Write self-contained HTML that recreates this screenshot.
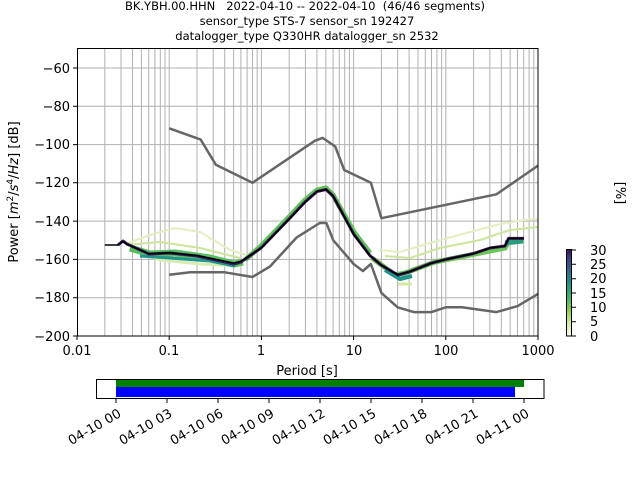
<!DOCTYPE html>
<html><head><meta charset="utf-8"><style>
body{margin:0;background:#fff;width:640px;height:480px;overflow:hidden}
svg text{font-family:"DejaVu Sans","Liberation Sans",sans-serif;fill:#000}
</style></head><body>
<svg width="640" height="480" viewBox="0 0 640 480" xmlns="http://www.w3.org/2000/svg">
<defs>
<linearGradient id="cb" x1="0" y1="1" x2="0" y2="0">
<stop offset="0" stop-color="#fbfbe8"/>
<stop offset="0.15" stop-color="#d6e9a0"/>
<stop offset="0.3" stop-color="#8ccc4a"/>
<stop offset="0.45" stop-color="#3cb56a"/>
<stop offset="0.6" stop-color="#1f958b"/>
<stop offset="0.75" stop-color="#2e6c8e"/>
<stop offset="0.9" stop-color="#413f84"/>
<stop offset="1" stop-color="#3a0f5a"/>
</linearGradient>
<clipPath id="ax"><rect x="77" y="48" width="461" height="288"/></clipPath>
</defs>
<g font-size="11.5" text-anchor="middle">
<text x="305" y="10">BK.YBH.00.HHN&#160;&#160; 2022-04-10 -- 2022-04-10&#160; (46/46 segments)</text>
<text x="307" y="25">sensor_type STS-7 sensor_sn 192427</text>
<text x="307" y="40">datalogger_type Q330HR datalogger_sn 2532</text>
</g>
<g stroke="#b0b0b0" stroke-width="1" fill="none">
<path d="M104.8 48V336M121 48V336M132.5 48V336M141.4 48V336M148.7 48V336M154.9 48V336M160.3 48V336M165 48V336M169.2 48V336
M197 48V336M213.2 48V336M224.7 48V336M233.6 48V336M240.9 48V336M247.1 48V336M252.5 48V336M257.2 48V336M261.4 48V336
M289.2 48V336M305.4 48V336M316.9 48V336M325.8 48V336M333.1 48V336M339.3 48V336M344.7 48V336M349.4 48V336M353.6 48V336
M381.4 48V336M397.6 48V336M409.1 48V336M418 48V336M425.3 48V336M431.5 48V336M436.9 48V336M441.6 48V336M445.8 48V336
M473.6 48V336M489.8 48V336M501.3 48V336M510.2 48V336M517.5 48V336M523.7 48V336M529.1 48V336M533.8 48V336
M77 68H538M77 106.3H538M77 144.6H538M77 182.8H538M77 221.1H538M77 259.4H538M77 297.7H538"/>
</g>
<g clip-path="url(#ax)" fill="none" stroke-linejoin="round">
<path d="M128 243 L150 235 L175 228 L200 232 L230 250 L250 256" stroke="#e3efc0" stroke-width="2"/>
<path d="M126 245 L160 242 L200 248 L240 258" stroke="#cde59a" stroke-width="2"/>
<path d="M135 251 L160 260 L200 264 L238 266" stroke="#d8ecaf" stroke-width="3"/>
<path d="M130 248 L150 254 L175 253 L210 258 L234 264 L243 262" stroke="#56bf5e" stroke-width="7"/>
<path d="M140 256 L170 258 L210 261 L235 266" stroke="#1f958b" stroke-width="3"/>
<path d="M245 260 L261 246 L289 217 L305 200 L317 190 L326 188 L333 195 L354 232 L370 253" stroke="#5fc25a" stroke-width="5"/>
<path d="M380 250 L400 252 L430 243 L470 232 L500 224 L525 220 L548 218" stroke="#e3efc0" stroke-width="2"/>
<path d="M385 256 L410 258 L440 248 L480 240 L510 230 L548 226" stroke="#cde59a" stroke-width="2"/>
<path d="M372 258 L395 275 L405 273 L435 262 L480 253 L505 248 L510 240 L524 240" stroke="#6cc558" stroke-width="5"/>
<path d="M385 270 L400 279 L412 276" stroke="#1f958b" stroke-width="4"/>
<path d="M398 284 L412 284" stroke="#d3e9a6" stroke-width="3"/>
<path d="M505 243 L523 241" stroke="#2a9d7e" stroke-width="5"/>
<path d="M118 245 L123 241 L127 244 L149 254 L170 253 L197 256 L225 262 L234 264 L241 262 L261 248 L289 219 L305 202 L317 191.5 L326 189.5 L333 196 L354 234.5 L370 255.6 L381 265 L398 275 L409 272 L431 263.2 L446 259.4 L473 253.7 L490 248 L505 246 L508.5 238.4 L524 238.4" stroke="#3b1a5e" stroke-width="3"/>
<path d="M104.8 245 L118.2 245 L122.3 241.2 L126.8 244.1 L148.7 253.7 L169.2 252.7 L197 255.6 L224.7 261.3 L233.7 263.2 L241 261.3 L261.4 247.9 L289.2 219.2 L305.4 202 L316.9 191.5 L326.4 189.5 L333.3 196.2 L353.6 234.5 L369.8 255.6 L381.4 265.1 L397.6 274.7 L409.1 271.8 L431.5 263.2 L445.8 259.4 L473.5 253.7 L489.8 247.9 L505 246 L508.5 238.4 L523.7 238.4" stroke="#000" stroke-width="1.5"/>
<path d="M169.2 128.3 L200.7 139.6 L215.8 164.7 L252.5 182.8 L315 140.7 L322.6 137.9 L335.2 146.5 L344.2 170 L370.9 182.8 L381.4 218.2 L496.4 194.3 L538 165.6" stroke="#666" stroke-width="2.5"/>
<path d="M169.2 274.7 L190.4 272.3 L224.7 272.3 L252.5 277 L270 266.5 L296.5 237.6 L319.8 223 L326.4 223 L333.3 240.3 L353.6 264 L362.9 271 L370.9 264 L381.4 292.9 L397.6 307.3 L413.8 312.1 L431.5 312.1 L445.8 307.3 L462 307.3 L496.4 312.1 L517.6 306.1 L538 293.9" stroke="#666" stroke-width="2.5"/>
</g>
<rect x="77.5" y="48.5" width="460.5" height="287.5" fill="none" stroke="#000" stroke-width="1"/>
<g stroke="#000"><path d="M73 68H77M73 106.3H77M73 144.6H77M73 182.8H77M73 221.1H77M73 259.4H77M73 297.7H77M73 336H77
M77 336V340M169.2 336V340M261.4 336V340M353.6 336V340M445.8 336V340M538 336V340"/></g>
<g font-size="13" text-anchor="end">
<text x="70" y="73">−60</text><text x="70" y="111">−80</text><text x="70" y="149">−100</text><text x="70" y="187">−120</text><text x="70" y="226">−140</text><text x="70" y="264">−160</text><text x="70" y="302">−180</text><text x="70" y="341">−200</text>
</g>
<g font-size="13" text-anchor="middle">
<text x="77" y="355">0.01</text><text x="169" y="355">0.1</text><text x="261" y="355">1</text><text x="354" y="355">10</text><text x="446" y="355">100</text><text x="538" y="355">1000</text>
<text x="307" y="375">Period [s]</text>
</g>
<text font-size="13" text-anchor="middle" transform="translate(18,192) rotate(-90)">Power [<tspan font-style="italic">m</tspan><tspan font-size="9" dy="-5">2</tspan><tspan dy="5">/</tspan><tspan font-style="italic">s</tspan><tspan font-size="9" dy="-5">4</tspan><tspan dy="5">/</tspan><tspan font-style="italic">Hz</tspan>] [dB]</text>
<rect x="566.5" y="249.5" width="5" height="86.5" fill="url(#cb)" stroke="#000" stroke-width="1"/>
<g stroke="#000"><path d="M572 250H576M572 264.3H576M572 278.7H576M572 293H576M572 307.3H576M572 321.7H576M572 336H576"/></g>
<g font-size="13"><text x="590" y="255">30</text><text x="590" y="269">25</text><text x="590" y="283">20</text><text x="590" y="298">15</text><text x="590" y="312">10</text><text x="590" y="326">5</text><text x="590" y="341">0</text></g>
<text font-size="13" text-anchor="middle" transform="translate(616,193) rotate(90)">[%]</text>
<rect x="116" y="379" width="408" height="8" fill="#008000"/>
<rect x="116" y="387" width="399" height="10" fill="#0000ff"/>
<rect x="96.5" y="379.5" width="447.5" height="19" fill="none" stroke="#000" stroke-width="1"/>
<g stroke="#000"><path d="M116 399V403M167 399V403M218 399V403M269 399V403M320 399V403M371 399V403M422 399V403M473 399V403M524 399V403"/></g>
<g font-size="13" text-anchor="end">
<text transform="translate(122,416) rotate(-30)">04-10 00</text>
<text transform="translate(173,416) rotate(-30)">04-10 03</text>
<text transform="translate(224,416) rotate(-30)">04-10 06</text>
<text transform="translate(275,416) rotate(-30)">04-10 09</text>
<text transform="translate(326,416) rotate(-30)">04-10 12</text>
<text transform="translate(377,416) rotate(-30)">04-10 15</text>
<text transform="translate(428,416) rotate(-30)">04-10 18</text>
<text transform="translate(479,416) rotate(-30)">04-10 21</text>
<text transform="translate(530,416) rotate(-30)">04-11 00</text>
</g>
</svg>
</body></html>
